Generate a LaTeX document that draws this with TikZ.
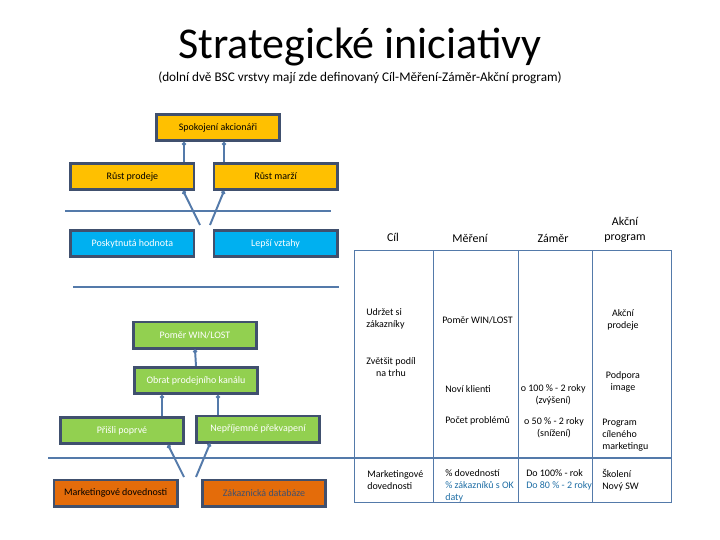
\documentclass[tikz,border=0pt]{standalone}
\usepackage{fontspec}
\setmainfont{Carlito}
\usetikzlibrary{arrows.meta}
\definecolor{GoldBSC}{RGB}{255,192,0}
\definecolor{SkyBSC}{RGB}{0,176,240}
\definecolor{LeafBSC}{RGB}{146,208,80}
\definecolor{RustBSC}{RGB}{228,108,10}
\definecolor{EdgeBSC}{RGB}{64,80,110}
\definecolor{WireBSC}{RGB}{84,122,170}
\definecolor{InkBlue}{RGB}{31,110,165}
\colorlet{DimText}{EdgeBSC}

\begin{document}
\begin{tikzpicture}[
      box/.style={draw=EdgeBSC,line width=2pt,minimum width=3.08cm,minimum height=0.655cm,inner sep=1pt,font=\fontsize{7.1}{8.5}\selectfont},
      wire/.style={-{Circle[length=2.8pt]},line width=1.4pt,WireBSC},
      bar/.style={line width=2pt,WireBSC},
      grid/.style={line width=0.7pt,WireBSC},
      cell/.style={font=\fontsize{7.1}{8.5}\selectfont,inner sep=0pt},
      head/.style={font=\fontsize{8.5}{10.5}\selectfont,align=center,inner sep=0pt}
    ]
    \useasboundingbox (0,0) rectangle (18,-13.5);
    \node[font=\fontsize{31.3}{36}\selectfont] (titul) at (9,-1.175) {Strategické iniciativy};
    \node[font=\fontsize{9.4}{11}\selectfont] (podtitul) at (9,-1.95) {(dolní dvě BSC vrstvy mají zde definovaný Cíl-Měření-Záměr-Akční program)};
    % finance
    \node[box,fill=GoldBSC] (akcionari) at (5.45,-3.19) {Spokojení akcionáři};
    \node[box,fill=GoldBSC] (prodej) at (3.31,-4.41) {Růst prodeje};
    \node[box,fill=GoldBSC] (marze) at (6.89,-4.41) {Růst marží};
    % zakaznik
    \node[box,fill=SkyBSC,text=white] (hodnota) at (3.31,-6.09) {Poskytnutá hodnota};
    \node[box,fill=SkyBSC,text=white] (vztahy) at (6.89,-6.09) {Lepší vztahy};
    % procesy
    \node[box,fill=LeafBSC,text=white] (winlost) at (4.875,-8.375) {Poměr WIN/LOST};
    \node[box,fill=LeafBSC,text=white] (obrat) at (4.9,-9.51) {Obrat prodejního kanálu};
    \node[box,fill=LeafBSC,text=white] (poprve) at (3.05,-10.76) {Přišli poprvé};
    \node[box,fill=LeafBSC,text=white] (prekvapeni) at (6.45,-10.725) {Nepříjemné překvapení};
    % uceni a rust
    \node[box,fill=RustBSC] (dovednosti) at (2.89,-12.325) {Marketingové dovednosti};
    \node[box,fill=RustBSC,text=DimText] (databaze) at (6.6,-12.325) {Zákaznická databáze};
    \coordinate (pod1) at (5.0,-5.625);
    \coordinate (pod2) at (5.25,-5.625);
    \coordinate (pod3) at (4.6,-11.925);
    \coordinate (pod4) at (4.9,-11.925);
    \draw[wire] ([xshift=1.29cm]prodej.north) -- ([xshift=-0.85cm]akcionari.south);
    \draw[wire] ([xshift=-1.29cm]marze.north) -- ([xshift=0.15cm]akcionari.south);
    \draw[wire] (pod1) -- ([xshift=1.27cm]prodej.south);
    \draw[wire] (pod2) -- ([xshift=-1.29cm]marze.south);
    \draw[wire] (obrat.north) -- (winlost.south);
    \draw[wire] ([xshift=1cm]poprve.north) -- ([xshift=-0.85cm]obrat.south);
    \draw[wire] ([xshift=-1cm]prekvapeni.north) -- ([xshift=0.55cm]obrat.south);
    \draw[wire] (pod3) -- ([xshift=1.15cm]poprve.south);
    \draw[wire] (pod4) -- ([xshift=-1.2cm]prekvapeni.south);
    \draw[bar] (1.625,-5.275) -- (8.275,-5.275);
    \draw[bar] (1.825,-7.175) -- (8.475,-7.175);
    % tabulka
    \draw[grid] (8.85,-12.55) -- (8.85,-6.25) -- (16.775,-6.25) -- (16.775,-12.55) -- cycle;
    \foreach \x in {10.825,12.95,14.8}
      \draw[grid] (\x,-6.25) -- (\x,-12.55);
    \draw[bar] (1.2,-11.45) -- (16.775,-11.45);
    \node[head] (hcil) at (9.825,-5.925) {Cíl};
    \node[head] (hmereni) at (11.75,-5.95) {Měření};
    \node[head] (hzamer) at (13.825,-5.95) {Záměr};
    \node[head] (hprogram) at (15.625,-5.75) {Akční\\program};
    \node[cell,anchor=west,align=left] (cil1) at (9.15,-7.975) {Udržet si\\zákazníky};
    \node[cell,align=center] (cil2) at (9.775,-9.175) {Zvětšit podíl\\na trhu};
    \node[cell,anchor=west] (mer1) at (11.05,-8.0) {Poměr WIN/LOST};
    \node[cell,anchor=west] (mer2) at (11.125,-9.725) {Noví klienti};
    \node[cell,anchor=west] (mer3) at (11.125,-10.525) {Počet problémů};
    \node[cell,align=center] (zam2) at (13.83,-9.86) {o 100 \% - 2 roky\\(zvýšení)};
    \node[cell,align=center] (zam3) at (13.85,-10.7) {o 50 \% - 2 roky\\(snížení)};
    \node[cell,align=center] (akc1) at (15.575,-8.0) {Akční\\prodeje};
    \node[cell,align=center] (akc2) at (15.575,-9.55) {Podpora\\image};
    \node[cell,anchor=west,align=left] (akc3) at (15.05,-10.875) {Program\\cíleného\\marketingu};
    \node[cell,anchor=west,align=left] (cil4) at (9.175,-12.0) {Marketingové\\dovednosti};
    \node[cell,anchor=west,align=left] (mer4) at (11.125,-12.15) {\% dovedností\\\textcolor{InkBlue}{\% zákazníků s OK}\\\textcolor{InkBlue}{daty}};
    \node[cell,anchor=west,align=left] (zam4) at (13.15,-12.0) {Do 100\% - rok\\\textcolor{InkBlue}{Do 80 \% - 2 roky}};
    \node[cell,anchor=west,align=left] (akc4) at (15.05,-12.0) {Školení\\Nový SW};
  \end{tikzpicture}
\end{document}
